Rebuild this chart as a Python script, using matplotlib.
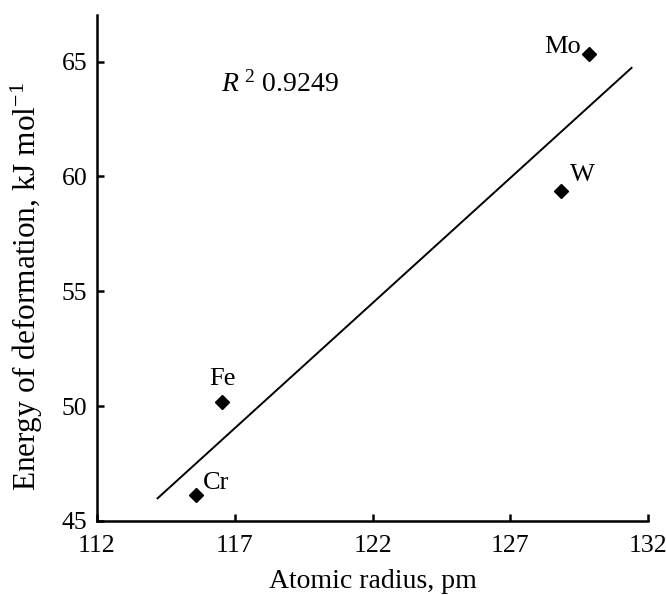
import numpy as np
import matplotlib
matplotlib.use("Agg")
import matplotlib.pyplot as plt

# Data
elements = ["Cr", "Fe", "W", "Mo"]
atomic_radius = [115.6, 116.55, 128.85, 129.85]
deform_energy = [46.15, 50.2, 59.35, 65.35]
fit_range = [114.2, 131.4]
r2_text = "0.9249"
x_ticks = [112, 117, 122, 127, 132]
y_ticks = [45, 50, 55, 60, 65]

plt.rcParams['font.family'] = ['Liberation Serif', 'DejaVu Serif']
plt.rcParams['mathtext.fontset'] = 'custom'
plt.rcParams['mathtext.rm'] = 'Liberation Serif'
plt.rcParams['mathtext.it'] = 'Liberation Serif:italic'

fig = plt.figure(figsize=(6.66, 5.95), dpi=100)
ax = fig.add_axes([0.1456, 0.1245, 0.8275, 0.851])

# regression line
coef = np.polyfit(atomic_radius, deform_energy, 1)
lx = np.array(fit_range)
ax.plot(lx, np.polyval(coef, lx), color='black', lw=1.4)

ax.plot(atomic_radius, deform_energy, linestyle='none', marker='D',
        color='black', markersize=7)

offsets = {"Cr": (5, 8.5, 'left', 'center'), "Fe": (0, 16.5, 'center', 'center'),
           "W": (6, 12, 'left', 'center'), "Mo": (-6, 5, 'right', 'center')}
for el, x, y in zip(elements, atomic_radius, deform_energy):
    dx, dy, ha, va = offsets[el]
    ax.annotate(el, (x, y), xytext=(dx, dy), textcoords='offset points',
                ha=ha, va=va, fontsize=19)

ax.text(116.5, 64.0, r"$R^{\,\,2}$ " + r2_text, fontsize=20, ha='left', va='center')

ax.set_xlim(112, 132)
ax.set_ylim(45, 67.05)
ax.set_xticks(x_ticks)
ax.set_yticks(y_ticks)
ax.tick_params(axis='both', direction='in', length=5, width=1.8, labelsize=18.5)
ax.tick_params(axis='x', pad=10)
ax.tick_params(axis='y', pad=7)
for s in ['top', 'right']:
    ax.spines[s].set_visible(False)
for s in ['left', 'bottom']:
    ax.spines[s].set_linewidth(1.8)

ax.set_xlabel("Atomic radius, pm", fontsize=20, labelpad=9)
ax.set_ylabel(r"Energy of deformation, kJ mol$^{-1}$", fontsize=22.5)
ax.yaxis.set_label_coords(-0.094, 0.462)

fig.savefig("out.png", dpi=100)
